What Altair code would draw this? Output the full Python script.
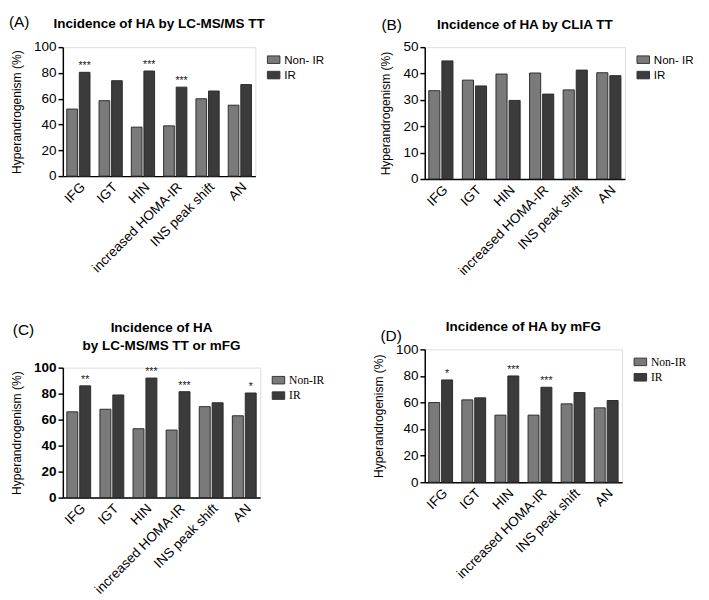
import altair as alt
import pandas as pd

categories = ["IFG", "IGT", "HIN", "increased HOMA-IR", "INS peak shift", "AN"]

a_nonir = [52, 58.5, 38, 39, 60, 55]
a_ir = [80.5, 74, 81.5, 69, 66, 71]
a_stars = ["***", "", "***", "***", "", ""]

b_nonir = [33.5, 37.5, 39.8, 40.2, 33.8, 40.3]
b_ir = [44.8, 35.3, 29.8, 32.2, 41.3, 39.2]
b_stars = ["", "", "", "", "", ""]

c_nonir = [66, 68, 53, 52, 70, 63]
c_ir = [86, 79, 92, 81.5, 73, 80.5]
c_stars = ["**", "", "***", "***", "", "*"]

d_nonir = [60, 62, 50.5, 50.5, 59, 56]
d_ir = [77, 63.5, 80, 71.5, 67.5, 61.5]
d_stars = ["*", "", "***", "***", "", ""]

SANS = "Liberation Sans"
SERIF = "Liberation Serif"
NONIR_COLOR = "#7a7a7a"
IR_COLOR = "#3b3b3b"
RECT = "M-1,-0.6H1V0.6H-1Z"


def panel(letter, title, nonir, ir, stars, ymax, step, names, legend_font,
          tick_weight, w, h, lx, ly, ty):
    n_name, i_name = names
    df = pd.DataFrame({
        "cat": categories * 2,
        "group": [n_name] * 6 + [i_name] * 6,
        "value": nonir + ir,
        "star": [""] * 6 + stars,
    })
    x = alt.X("cat:N", sort=categories, title=None,
              scale=alt.Scale(paddingInner=0.28, paddingOuter=0.12),
              axis=alt.Axis(labelAngle=-45, ticks=False, labelFontSize=14,
                            labelFont=SANS, labelColor="black",
                            domainColor="black", domainWidth=1.5,
                            labelPadding=4))
    xo = alt.XOffset("group:N", sort=[n_name, i_name],
                     scale=alt.Scale(domain=[n_name, i_name], paddingInner=0.15))
    y = alt.Y("value:Q", scale=alt.Scale(domain=[0, ymax], nice=False),
              axis=alt.Axis(values=list(range(0, ymax + 1, step)),
                            title="Hyperandrogenism (%)", grid=False,
                            labelFontSize=14, labelFont=SANS,
                            labelFontWeight=tick_weight, labelColor="black",
                            titleFont=SANS, titleFontSize=12.5,
                            titleFontWeight="normal", titleColor="black",
                            tickColor="black", tickSize=5, tickWidth=1.5,
                            domainColor="black", domainWidth=1.5,
                            labelPadding=2, titlePadding=11))
    color = alt.Color("group:N", sort=[n_name, i_name],
                      scale=alt.Scale(domain=[n_name, i_name],
                                      range=[NONIR_COLOR, IR_COLOR]),
                      legend=alt.Legend(title=None, orient="right", offset=6,
                                        padding=6, symbolType=RECT,
                                        symbolSize=169, labelFont=legend_font,
                                        labelFontSize=12, labelColor="black",
                                        symbolStrokeColor="#333",
                                        symbolStrokeWidth=1, symbolOpacity=1,
                                        rowPadding=3))
    bars = alt.Chart(df).mark_bar(stroke="#2a2a2a", strokeWidth=1).encode(
        x=x, xOffset=xo, y=y, color=color)
    txt = alt.Chart(df).transform_filter(
        alt.datum.group == i_name
    ).mark_text(baseline="bottom", dy=-1, fontSize=11, font=SANS,
                color="#222").encode(x=x, xOffset=xo, y=y, text="star:N")
    lab = alt.Chart(pd.DataFrame({"t": [letter]})).mark_text(
        align="left", baseline="middle", fontSize=16, font=SANS,
        color="black").encode(x=alt.value(lx), y=alt.value(ly), text="t:N")
    ttl = alt.Chart(pd.DataFrame({"t": [title]})).mark_text(
        align="center", baseline="middle", fontSize=14, font=SANS,
        fontWeight="bold", color="black", lineBreak="\n", lineHeight=19
    ).encode(x=alt.value(w / 2), y=alt.value(ty), text="t:N")
    return alt.layer(bars, txt, lab, ttl).properties(width=w, height=h)


pa = panel("(A)", "Incidence of HA by LC-MS/MS TT", a_nonir, a_ir, a_stars,
           100, 20, ["Non- IR", "IR"], SANS, "normal", 200, 134, -56, -26, -24)
pb = panel("(B)", "Incidence of HA by CLIA TT", b_nonir, b_ir, b_stars,
           50, 10, ["Non- IR", "IR"], SANS, "normal", 208, 137, -45, -23, -23)
pc = panel("(C)", "Incidence of HA\nby LC-MS/MS TT or mFG", c_nonir, c_ir,
           c_stars, 100, 20, ["Non-IR", "IR"], SERIF, "bold", 205, 135, -52, -39, -41)
pd_ = panel("(D)", "Incidence of HA by mFG", d_nonir, d_ir, d_stars,
            100, 20, ["Non-IR", "IR"], SERIF, "normal", 205, 138, -46, -14, -23)

col1 = alt.vconcat(pa, pc, spacing=47).resolve_scale(
    color="independent", x="independent", y="independent", xOffset="independent")
col2 = alt.vconcat(pb, pd_, spacing=43).resolve_scale(
    color="independent", x="independent", y="independent", xOffset="independent")

chart = alt.hconcat(col1, col2, spacing=42).resolve_scale(
    color="independent", x="independent", y="independent", xOffset="independent"
).properties(
    padding={"top": -6, "left": 0, "right": 0, "bottom": 0}
).configure_view(stroke=None).configure(background="white")

chart.save("out.html", embed_options={"renderer": "svg", "actions": False})
